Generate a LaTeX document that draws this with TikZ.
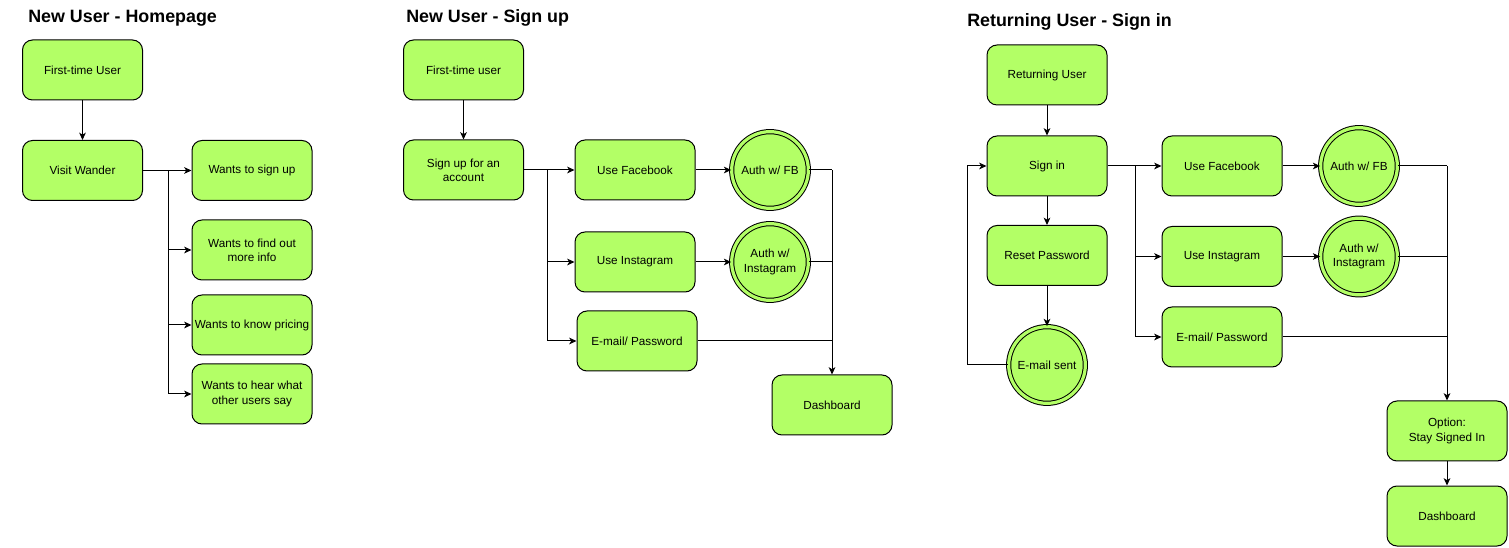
\documentclass[tikz,border=0pt]{standalone}
\usepackage{fontspec}
\setmainfont{Liberation Sans}
\usetikzlibrary{arrows.meta}
\definecolor{boxgreen}{HTML}{B3FF66}
\def \boxwidth {90pt}
\def \boxheight {45pt}
\def \authsize {57.5pt}
\tikzset{
  stepbox/.style={draw, fill=boxgreen, rounded corners=7.5pt, line width=0.75pt,
    minimum width=\boxwidth, minimum height=\boxheight, inner sep=1pt, align=center,
    font=\fontsize{8.8}{10.7}\selectfont},
  authnode/.style={circle, draw, fill=boxgreen, double=boxgreen, double distance=2.4pt,
    line width=0.75pt, minimum size=\authsize, inner sep=0pt, align=center,
    font=\fontsize{8.8}{10.7}\selectfont},
  heading/.style={anchor=west, inner sep=0pt, font=\fontsize{13.4}{16}\selectfont\bfseries},
  flow/.style={line width=0.75pt, -{Stealth[length=5.5pt,width=5pt,inset=1.5pt]}},
  joint/.style={line width=0.75pt}
}
\begin{document}
\begin{tikzpicture}[x=0.75pt,y=-0.75pt]
\useasboundingbox (0,0) rectangle (1509,548);
% Draw the headings
\node[heading] (t1) at (28,18) {New User - Homepage};
\node[heading] (t2) at (406,18) {New User - Sign up};
\node[heading] (t3) at (967,22) {Returning User - Sign in};
% Draw the homepage boxes
\node[stepbox] (fu1) at (82.5,70) {First-time User};
\node[stepbox] (visit) at (82.5,170.5) {Visit Wander};
\node[stepbox] (wsign) at (252,170.5) {Wants to sign up};
\node[stepbox] (winfo) at (252,250) {Wants to find out\\more info};
\node[stepbox] (wprice) at (252,325) {Wants to know pricing};
\node[stepbox] (whear) at (252,394) {Wants to hear what\\other users say};
\coordinate (hb) at (168,170.5);
% Draw the homepage arrows
\draw[flow] (fu1) -- (visit);
\draw[flow] (visit) -- (wsign);
\foreach \n in {winfo,wprice,whear}
  \draw[flow] (hb) |- (\n.west);
% Draw the sign up boxes
\node[stepbox] (fu2) at (463.5,70) {First-time user};
\node[stepbox] (acct) at (463.5,170) {Sign up for an\\account};
\node[stepbox] (fb2) at (635,170) {Use Facebook};
\node[stepbox] (ig2) at (635,262) {Use Instagram};
\node[stepbox] (em2) at (637,341) {E-mail/ Password};
\node[authnode] (afb2) at (770,170) {Auth w/ FB};
\node[authnode] (aig2) at (770,262) {Auth w/\\Instagram};
\node[stepbox] (dash2) at (832,405) {Dashboard};
\coordinate (sb) at (547,170);
\coordinate (sj) at (832,170);
% Draw the sign up arrows
\draw[flow] (fu2) -- (acct);
\draw[flow] (acct) -- (fb2);
\draw[flow] (sb) |- (ig2.west);
\draw[flow] (sb) |- (em2.west);
\draw[flow] (fb2) -- (afb2);
\draw[flow] (ig2) -- (aig2);
\draw[joint] (afb2) -- (sj);
\draw[joint] (aig2) -| (sj);
\draw[joint] (em2) -| (sj);
\draw[flow] (sj) -- (dash2);
% Draw the sign in boxes
\node[stepbox] (ru) at (1047,75) {Returning User};
\node[stepbox] (signin) at (1047,166) {Sign in};
\node[stepbox] (reset) at (1047,255.5) {Reset Password};
\node[authnode] (sent) at (1047,365) {E-mail sent};
\node[stepbox] (fb3) at (1222,166) {Use Facebook};
\node[stepbox] (ig3) at (1222,256.5) {Use Instagram};
\node[stepbox] (em3) at (1222,337) {E-mail/ Password};
\node[authnode] (afb3) at (1359,166) {Auth w/ FB};
\node[authnode] (aig3) at (1359,256.5) {Auth w/\\Instagram};
\node[stepbox] (opt) at (1447,431) {Option:\\Stay Signed In};
\node[stepbox] (dash3) at (1447,516) {Dashboard};
\coordinate (lp) at (967,166);
\coordinate (rb) at (1135,166);
\coordinate (rj) at (1447,166);
% Draw the sign in arrows
\draw[flow] (ru) -- (signin);
\draw[flow] (signin) -- (reset);
\draw[flow] (reset) -- (sent);
\draw[flow] (sent) -| (lp) -- (signin);
\draw[flow] (signin) -- (fb3);
\draw[flow] (rb) |- (ig3.west);
\draw[flow] (rb) |- (em3.west);
\draw[flow] (fb3) -- (afb3);
\draw[flow] (ig3) -- (aig3);
\draw[joint] (afb3) -- (rj);
\draw[joint] (aig3) -| (rj);
\draw[joint] (em3) -| (rj);
\draw[flow] (rj) -- (opt);
\draw[flow] (opt) -- (dash3);
\end{tikzpicture}
\end{document}
